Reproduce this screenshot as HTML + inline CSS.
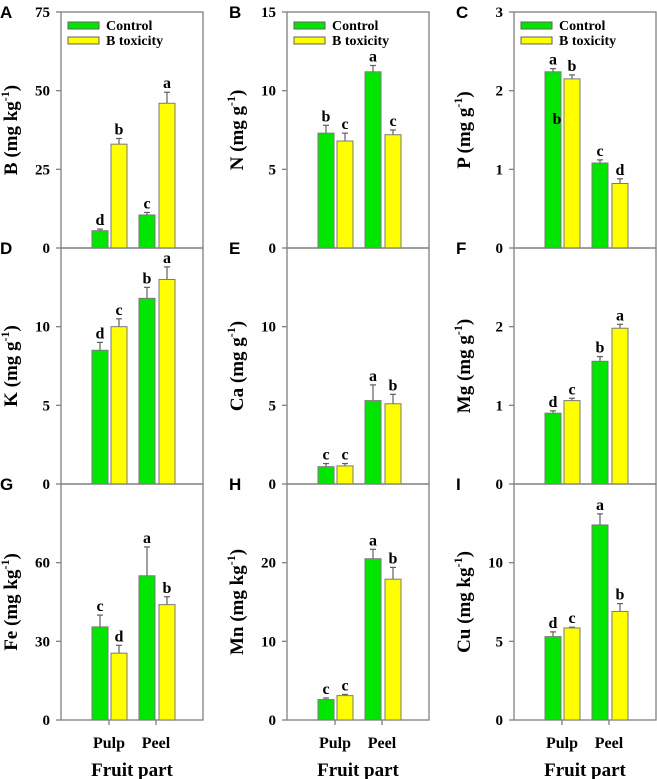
<!DOCTYPE html>
<html><head><meta charset="utf-8">
<style>
html,body{margin:0;padding:0;background:#fff;}
svg{display:block;}
svg text{font-family:"Liberation Serif","Times New Roman",serif;font-weight:bold;fill:#000;}
svg text.pl{font-family:"Liberation Sans",Arial,sans-serif;}
</style></head>
<body>
<svg id="chart" width="657" height="779" viewBox="0 0 657 779" xmlns="http://www.w3.org/2000/svg"></svg>
<script>
const categories = ["Pulp", "Peel"];
const seriesNames = ["Control", "B toxicity"];
const panelLetters = ["A","B","C","D","E","F","G","H","I"];
const elements = ["B","N","P","K","Ca","Mg","Fe","Mn","Cu"];
const units = ["kg","g","g","g","g","g","kg","kg","kg"];
const yMax = [75,15,3,15,15,3,90,30,15];
const yTicks = [[0,25,50,75],[0,5,10,15],[0,1,2,3],[0,5,10],[0,5,10],[0,1,2],[0,30,60],[0,10,20],[0,5,10]];
const controlVals = [[5.5,10.5],[7.3,11.2],[2.24,1.08],[8.5,11.8],[1.1,5.3],[0.90,1.56],[35.5,55],[2.6,20.5],[5.3,12.4]];
const controlErr = [[0.5,0.8],[0.5,0.4],[0.04,0.04],[0.5,0.7],[0.2,1.0],[0.03,0.06],[4.5,11],[0.2,1.2],[0.3,0.7]];
const toxVals = [[33,46],[6.8,7.2],[2.15,0.82],[10.0,13.0],[1.15,5.1],[1.06,1.98],[25.5,44],[3.1,17.9],[5.85,6.9]];
const toxErr = [[1.8,3.5],[0.5,0.3],[0.05,0.06],[0.5,0.8],[0.15,0.6],[0.03,0.05],[3,3],[0.15,1.5],[0.05,0.5]];
const controlLetters = [["d","c"],["b","a"],["a","c"],["d","b"],["c","a"],["d","b"],["c","a"],["c","a"],["d","a"]];
const toxLetters = [["b","a"],["c","c"],["b","d"],["c","a"],["c","b"],["c","a"],["d","b"],["c","b"],["c","b"]];

const NS="http://www.w3.org/2000/svg";
const svg=document.getElementById('chart');
const SERIF='"Liberation Serif", "Times New Roman", serif';
function mk(tag,attrs,parent){const e=document.createElementNS(NS,tag);for(const k in attrs)e.setAttribute(k,attrs[k]);(parent||svg).appendChild(e);return e;}
function tx(attrs,parent){attrs['font-family']=attrs['font-family']||SERIF;attrs['font-weight']='bold';return mk('text',attrs,parent);}
const colLeft=[61,287,514], W=142, rowTop=[12,248,484], H=236;
const barOff=[[31,50],[78,98]], barW=16;
const colors=["#00e600","#ffff00"];
for(let p=0;p<9;p++){
  const r=Math.floor(p/3), c=p%3, L=colLeft[c], T=rowTop[r], B=T+H;
  const g=mk('g',{});
  
  
  const y=v=>B-v/yMax[p]*H;
  const frame=mk('rect',{x:L,y:T,width:W,height:H,fill:'none',stroke:'#808080','stroke-width':1.3},g);
  
  yTicks[p].forEach(t=>{
    mk('line',{x1:L-5,x2:L,y1:y(t),y2:y(t),stroke:'#808080','stroke-width':1.3},g);
    const tl=tx({x:L-11,y:y(t)+5,'text-anchor':'end','font-size':15},g);tl.textContent=t;
    
  });
  const cx=L-44, cy=T+H/2;
  const yt=tx({x:cx,y:cy,'text-anchor':'middle','font-size':19,transform:`rotate(-90 ${cx} ${cy})`},g);
  yt.innerHTML=elements[p]+' (mg '+units[p]+'<tspan dy="-8" font-size="12">-1</tspan><tspan dy="8">)</tspan>';
  
  const pl=tx({x:c==0?0:L-58,y:T+6,'font-size':17,class:'pl','font-family':'"Liberation Sans", Arial, sans-serif'},g);pl.textContent=panelLetters[p];
  
  const vals=[controlVals[p],toxVals[p]], errs=[controlErr[p],toxErr[p]], lets=[controlLetters[p],toxLetters[p]];
  for(let ci=0;ci<2;ci++){
    for(let s=0;s<2;s++){
      const x0=L+barOff[ci][s], v=vals[s][ci], e=errs[s][ci];
      const top=y(v+e);
      mk('line',{x1:x0+barW/2,x2:x0+barW/2,y1:y(v),y2:top,stroke:'#606060','stroke-width':1.2},g);
      mk('line',{x1:x0+barW/2-3,x2:x0+barW/2+3,y1:top,y2:top,stroke:'#606060','stroke-width':1.2},g);
      const b=mk('rect',{x:x0,y:y(v),width:barW,height:B-y(v),fill:colors[s],stroke:'#7a7a7a','stroke-width':1},g);
      
      
      const lt=tx({x:x0+barW/2,y:top-4,'text-anchor':'middle','font-size':16},g);lt.textContent=lets[s][ci];
      
    }
  }
  if(r==0){
    [0,1].forEach(s=>{
      mk('rect',{x:L+7,y:T+10+s*15,width:31,height:7,fill:colors[s],stroke:'#606060','stroke-width':1},g);
      const lt=tx({x:L+45,y:T+18+s*15,'font-size':14},g);lt.textContent=seriesNames[s];
      
    });
  }
  if(r==2){
    categories.forEach((cat,ci)=>{
      const gx=L+(ci==0?48:95);
      mk('line',{x1:gx,x2:gx,y1:B,y2:B+5,stroke:'#808080','stroke-width':1.3},g);
      const t=tx({x:gx,y:B+28,'text-anchor':'middle','font-size':16},g);t.textContent=cat;
      
    });
    const xt=tx({x:L+71,y:B+56,'text-anchor':'middle','font-size':19},g);xt.textContent='Fruit part';
    
  }
}
const stray=tx({x:557,y:124,'text-anchor':'middle','font-size':16});stray.textContent='b';


</script>
</body></html>
